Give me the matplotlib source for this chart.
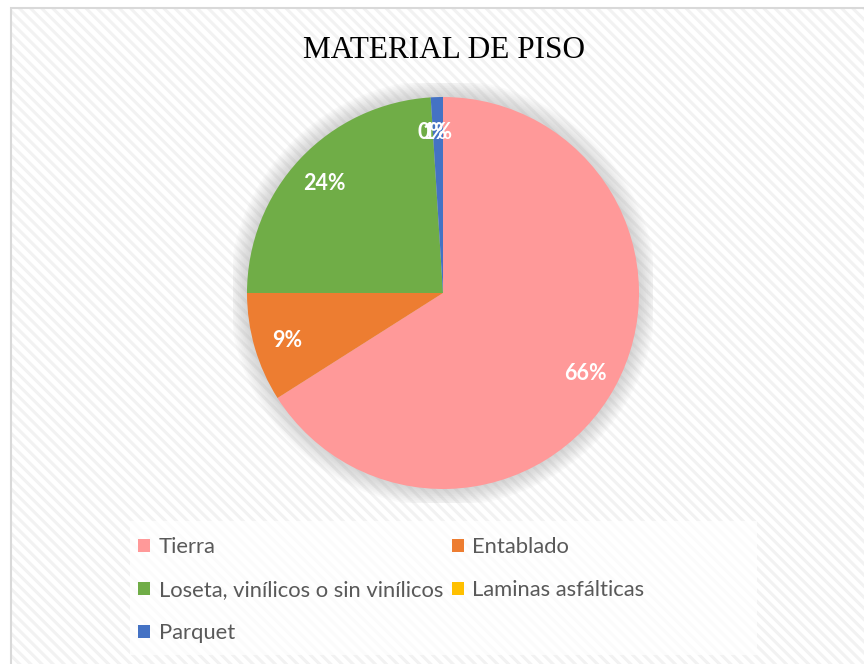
import matplotlib
matplotlib.use("Agg")
import matplotlib.pyplot as plt
from matplotlib.patches import Rectangle, Circle

# data
categories = ["Tierra", "Entablado", "Loseta, vinílicos o sin vinílicos",
              "Laminas asfálticas", "Parquet"]
values = [66, 9, 24, 0, 1]
colors = ["#FF9999", "#ED7D31", "#70AD47", "#FFC000", "#4472C4"]
title = "MATERIAL DE PISO"

W, H = 864, 664
fig = plt.figure(figsize=(W / 100, H / 100), dpi=100)
fig.patch.set_facecolor("white")

plt.rcParams["hatch.linewidth"] = 2.2

# striped chart-area background + light frame
bg = Rectangle((11 / W, 0), 1.0, 1 - 8 / H, transform=fig.transFigure,
               facecolor="white", edgecolor="#F2F2F2", hatch="\\\\\\",
               linewidth=0, zorder=-2)
fig.patches.append(bg)
frame = Rectangle((11 / W, -0.01), 1.0, 1 - 8 / H + 0.01, transform=fig.transFigure,
                  facecolor="none", edgecolor="#D9D9D9", linewidth=1.5, zorder=-1)
fig.patches.append(frame)

# legend background box
lg_box = Rectangle((130 / W, (H - 655) / H), (757 - 130) / W, (655 - 521) / H,
                   transform=fig.transFigure, facecolor="white", alpha=0.75,
                   edgecolor="none", zorder=-1)
fig.patches.append(lg_box)

# pie: centre (443, 293) px, radius 196 px
cx, cy, r = 443, 293, 196
half = 210
ax = fig.add_axes([(cx - half) / W, (H - cy - half) / H, 2 * half / W, 2 * half / H])
ax.set_zorder(1)

wedges, texts, autotexts = ax.pie(
    values, colors=colors, startangle=90, counterclock=False, radius=1,
    autopct=lambda p: f"{p:.0f}%", pctdistance=0.83,
    wedgeprops=dict(linewidth=0),
    textprops=dict(color="white", fontsize=15.5, fontweight="bold", family="Lato"))
for w in wedges:
    w.set_zorder(2)
for t in autotexts:
    t.set_zorder(3)
    t.set_va("center_baseline")

# soft glow behind the pie
for k in range(10):
    ax.add_patch(Circle((0, 0), 1.0 + 0.009 * (k + 1), color="#9A9A9A",
                        alpha=0.045, lw=0, zorder=0))

ax.set_xlim(-half / r, half / r)
ax.set_ylim(-half / r, half / r)
ax.set_aspect("equal")
ax.axis("off")

order = [0, 2, 4, 1, 3]
leg = fig.legend([wedges[i] for i in order], [categories[i] for i in order],
                 ncol=2, loc="upper left", bbox_to_anchor=(138 / W, 1 - 537 / H),
                 frameon=False, borderpad=0, borderaxespad=0,
                 handlelength=0.55, handleheight=0.55, handletextpad=0.4,
                 columnspacing=0.38, labelspacing=1.05,
                 prop=dict(family="Lato", size=15.8))
for t in leg.get_texts():
    t.set_color("#595959")

fig.text(443.5 / W, 1 - 58 / H, title, ha="center", va="baseline",
         fontsize=22.5, family="Liberation Serif", color="black")

fig.savefig("out.png", dpi=100)
